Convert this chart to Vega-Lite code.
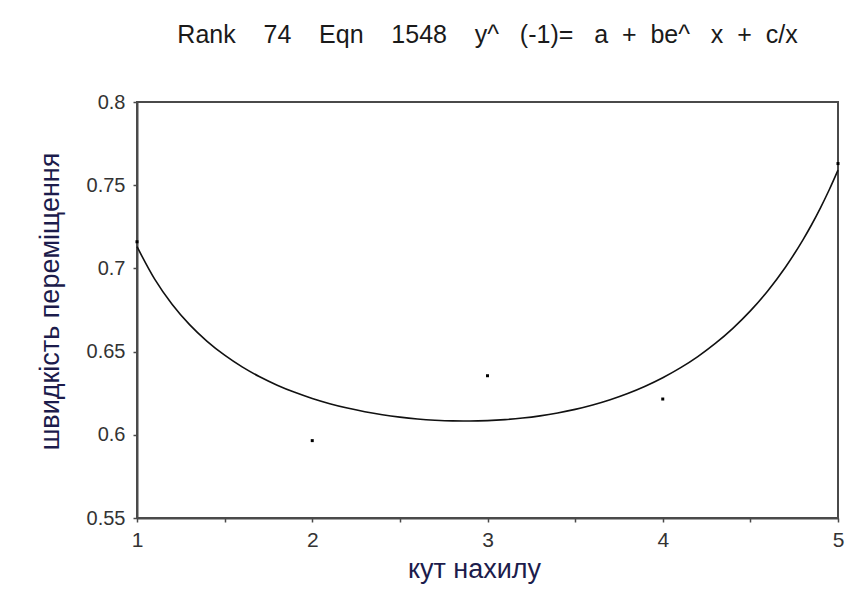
{
  "$schema": "https://vega.github.io/schema/vega-lite/v6.json",
  "autosize": {"type": "none"},
  "width": 701,
  "height": 416,
  "padding": {"left": 137, "top": 102, "right": 15, "bottom": 71},
  "background": "white",
  "title": {
    "text": "Rank\u00a0\u00a0\u00a0\u00a074\u00a0\u00a0\u00a0\u00a0Eqn\u00a0\u00a0\u00a0\u00a01548\u00a0\u00a0\u00a0\u00a0y^\u00a0\u00a0\u00a0(-1)=\u00a0\u00a0\u00a0a\u00a0\u00a0+\u00a0\u00a0be^\u00a0\u00a0\u00a0x\u00a0\u00a0+\u00a0\u00a0c/x",
    "anchor": "middle",
    "font": "Liberation Sans",
    "fontSize": 25,
    "fontWeight": "normal",
    "color": "#1a1a1a",
    "baseline": "alphabetic",
    "offset": 24
  },
  "config": {
    "view": {"stroke": "#4a4a4a", "strokeWidth": 2},
    "axis": {
      "grid": false,
      "domainColor": "#4a4a4a",
      "domainWidth": 2,
      "tickColor": "#4a4a4a",
      "tickWidth": 1.5,
      "tickSize": 4,
      "labelFont": "Liberation Sans",
      "labelColor": "#333333",
      "titleFont": "Liberation Sans",
      "titleFontWeight": "normal",
      "titleColor": "#1c1c4c"
    }
  },
  "datasets": {
    "observed": [
      {"angle": 1, "speed": 0.716},
      {"angle": 2, "speed": 0.5965},
      {"angle": 3, "speed": 0.6355},
      {"angle": 4, "speed": 0.6215},
      {"angle": 5, "speed": 0.763}
    ],
    "fitted": [
      {"angle": 1.0, "speed": 0.71304},
      {"angle": 1.1, "speed": 0.69370},
      {"angle": 1.2, "speed": 0.67848},
      {"angle": 1.3, "speed": 0.66622},
      {"angle": 1.4, "speed": 0.65617},
      {"angle": 1.5, "speed": 0.64782},
      {"angle": 1.6, "speed": 0.64080},
      {"angle": 1.7, "speed": 0.63487},
      {"angle": 1.8, "speed": 0.62982},
      {"angle": 1.9, "speed": 0.62551},
      {"angle": 2.0, "speed": 0.62183},
      {"angle": 2.1, "speed": 0.61870},
      {"angle": 2.2, "speed": 0.61605},
      {"angle": 2.3, "speed": 0.61385},
      {"angle": 2.4, "speed": 0.61203},
      {"angle": 2.5, "speed": 0.61060},
      {"angle": 2.6, "speed": 0.60951},
      {"angle": 2.7, "speed": 0.60876},
      {"angle": 2.8, "speed": 0.60834},
      {"angle": 2.9, "speed": 0.60826},
      {"angle": 3.0, "speed": 0.60851},
      {"angle": 3.1, "speed": 0.60911},
      {"angle": 3.2, "speed": 0.61006},
      {"angle": 3.3, "speed": 0.61139},
      {"angle": 3.4, "speed": 0.61313},
      {"angle": 3.5, "speed": 0.61529},
      {"angle": 3.6, "speed": 0.61794},
      {"angle": 3.7, "speed": 0.62110},
      {"angle": 3.8, "speed": 0.62483},
      {"angle": 3.9, "speed": 0.62920},
      {"angle": 4.0, "speed": 0.63429},
      {"angle": 4.1, "speed": 0.64019},
      {"angle": 4.2, "speed": 0.64701},
      {"angle": 4.3, "speed": 0.65488},
      {"angle": 4.4, "speed": 0.66397},
      {"angle": 4.5, "speed": 0.67446},
      {"angle": 4.6, "speed": 0.68662},
      {"angle": 4.7, "speed": 0.70073},
      {"angle": 4.75, "speed": 0.70862},
      {"angle": 4.8, "speed": 0.71715},
      {"angle": 4.85, "speed": 0.72638},
      {"angle": 4.9, "speed": 0.73639},
      {"angle": 4.95, "speed": 0.74725},
      {"angle": 5.0, "speed": 0.75904}
    ]
  },
  "encoding": {
    "x": {
      "field": "angle",
      "type": "quantitative",
      "scale": {"domain": [1, 5], "nice": false, "zero": false},
      "axis": {
        "title": "кут нахилу",
        "values": [1, 1.5, 2, 2.5, 3, 3.5, 4, 4.5, 5],
        "labelExpr": "datum.value % 1 === 0 ? format(datum.value, 'd') : ''",
        "labelFontSize": 21,
        "labelPadding": 7,
        "labelFlush": false,
        "titleFontSize": 27,
        "titleX": 337,
        "titleY": 51,
        "titleAlign": "center",
        "titleBaseline": "middle"
      }
    },
    "y": {
      "field": "speed",
      "type": "quantitative",
      "scale": {"domain": [0.55, 0.8], "nice": false, "zero": false},
      "axis": {
        "title": "швидкість переміщення",
        "values": [0.55, 0.6, 0.65, 0.7, 0.75, 0.8],
        "format": "~g",
        "labelFontSize": 20,
        "labelPadding": 8,
        "labelFlush": false,
        "titleFontSize": 27,
        "titleAngle": -90,
        "titleX": -87,
        "titleY": 199,
        "titleAlign": "center",
        "titleBaseline": "middle"
      }
    }
  },
  "layer": [
    {
      "data": {"name": "fitted"},
      "mark": {"type": "line", "color": "#111111", "strokeWidth": 1.6, "interpolate": "monotone"}
    },
    {
      "data": {"name": "observed"},
      "mark": {"type": "point", "shape": "square", "filled": true, "size": 9, "color": "#000000", "opacity": 1, "clip": false}
    }
  ]
}
